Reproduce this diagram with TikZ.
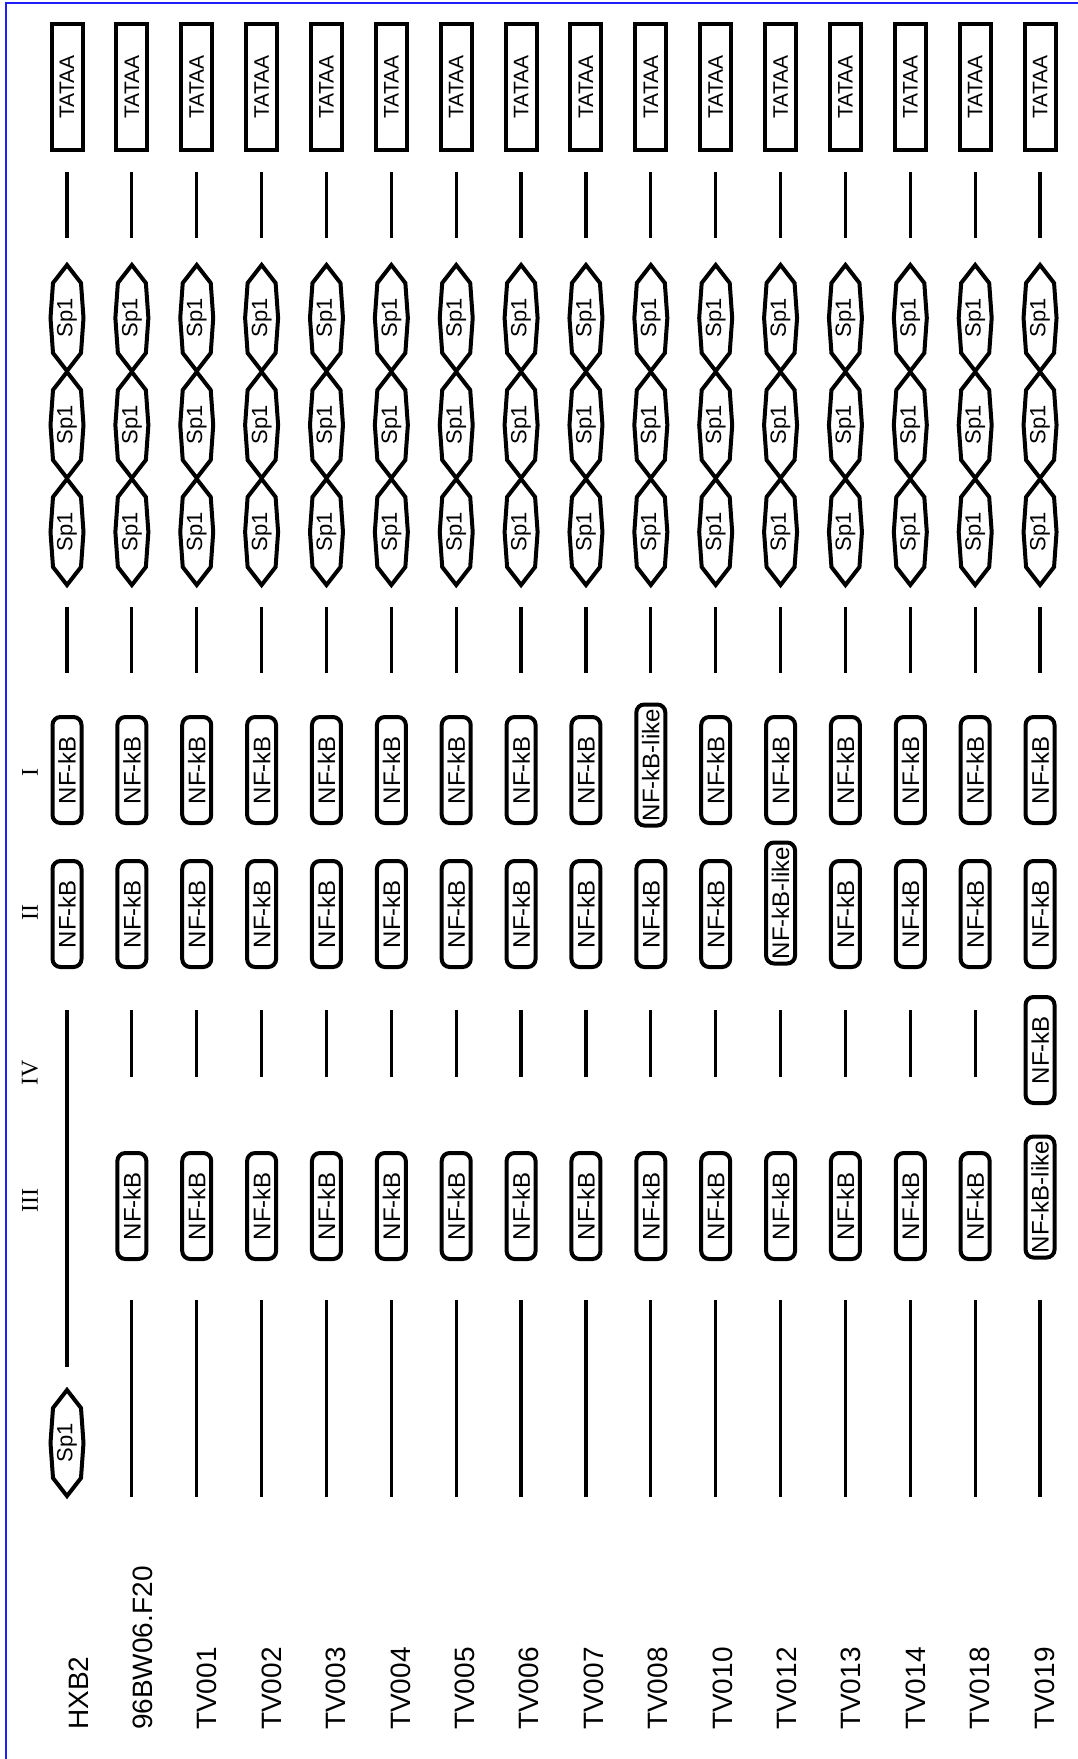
\documentclass[tikz,border=0pt]{standalone}
\usepackage{fontspec}
\setmainfont{Liberation Sans}
\newfontfamily\romfont{Liberation Serif}
\definecolor{blueframe}{RGB}{30,30,250}
\newcommand\sphex[3]{%
  \node[sptext] (#1) at (#2,#3) {Sp1};
  \draw[hex] (#2,#3-53) -- (#2+14,#3-35) -- (#2+16.5,#3) -- (#2+14,#3+35) -- (#2,#3+53)
     -- (#2-14,#3+35) -- (#2-16.5,#3) -- (#2-14,#3-35) -- cycle;}
\begin{document}
\begin{tikzpicture}[x=1pt,y=-1pt,
  seg/.style={line width=3.2pt},
  tbox/.style={draw,line width=4pt,rotate=90,minimum width=126pt,minimum height=31pt,inner sep=0pt,font=\fontsize{21}{21}\selectfont},
  nbox/.style={draw,line width=4pt,rounded corners=8pt,rotate=90,minimum width=106pt,minimum height=29pt,inner sep=0pt,font=\fontsize{24}{24}\selectfont},
  lbox/.style={nbox,minimum width=121pt},
  sptext/.style={rotate=90,inner sep=0pt,font=\fontsize{22}{22}\selectfont},
  hex/.style={line width=4pt,line join=miter},
  lab/.style={rotate=90,anchor=base west,inner sep=0pt,font=\fontsize{28}{28}\selectfont},
  rom/.style={rotate=90,inner sep=0pt,font=\romfont\fontsize{24}{24}\selectfont}]
\useasboundingbox (0,0) rectangle (1078,1759);
\fill[white] (0,0) rectangle (1078,1759);
% blue frame
\coordinate (fbl) at (6,1759);
\coordinate (ftl) at (6,3);
\coordinate (ftr) at (1078,3);
\draw[line width=2.5pt,blueframe] (fbl) -- (ftl) -- (ftr);
% roman numerals
\node[rom] (romI) at (30,772) {I};
\node[rom] (romII) at (30,912) {II};
\node[rom] (romIV) at (30,1073) {IV};
\node[rom] (romIII) at (30,1200) {III};
\foreach \i/\name in {0/HXB2,1/96BW06.F20,2/TV001,3/TV002,4/TV003,5/TV004,6/TV005,7/TV006,8/TV007,9/TV008,10/TV010,11/TV012,12/TV013,13/TV014,14/TV018,15/TV019}{
  \pgfmathsetmacro\cx{67+64.87*\i}
  \pgfmathsetmacro\lx{88+64.4*\i}
  \node[lab] (lab\i) at (\lx,1730) {\name};
  \node[tbox] (tata\i) at (\cx,87) {TATAA};
  \coordinate (a1\i) at (\cx,172);
  \coordinate (a2\i) at (\cx,238);
  \draw[seg] (a1\i) -- (a2\i);
  \sphex{spa\i}{\cx}{318}
  \sphex{spb\i}{\cx}{425}
  \sphex{spc\i}{\cx}{532}
  \coordinate (b1\i) at (\cx,607);
  \coordinate (b2\i) at (\cx,673);
  \draw[seg] (b1\i) -- (b2\i);
  \ifnum\i=9
    \node[lbox] (nfI\i) at (\cx,765) {NF-kB-like};
  \else
    \node[nbox] (nfI\i) at (\cx,770) {NF-kB};
  \fi
  \ifnum\i=11
    \node[lbox] (nfII\i) at (\cx,903) {NF-kB-like};
  \else
    \node[nbox] (nfII\i) at (\cx,914) {NF-kB};
  \fi
  \ifnum\i=0
    \coordinate (c1\i) at (\cx,1010);
    \coordinate (c2\i) at (\cx,1367);
    \draw[seg] (c1\i) -- (c2\i);
    \sphex{spd\i}{\cx}{1443}
  \else
    \ifnum\i=15
      \node[nbox] (nfIV\i) at (\cx,1050) {NF-kB};
      \node[lbox] (nfIII\i) at (\cx,1197) {NF-kB-like};
    \else
      \coordinate (c1\i) at (\cx,1010);
      \coordinate (c2\i) at (\cx,1077);
      \draw[seg] (c1\i) -- (c2\i);
      \node[nbox] (nfIII\i) at (\cx,1206) {NF-kB};
    \fi
    \coordinate (d1\i) at (\cx,1300);
    \coordinate (d2\i) at (\cx,1497);
    \draw[seg] (d1\i) -- (d2\i);
  \fi
}
\end{tikzpicture}
\end{document}
